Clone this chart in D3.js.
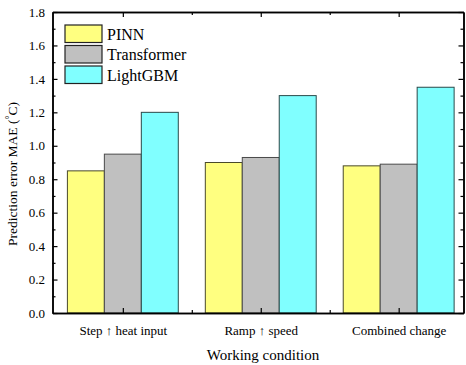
<!DOCTYPE html>
<html>
<head>
<meta charset="utf-8">
<script src="https://cdn.jsdelivr.net/npm/d3@7"></script>
<style>
  body { margin: 0; background: #fff; }
  svg { display: block; }
  svg text { font-family: "Liberation Serif", "Times New Roman", "DejaVu Serif", serif !important; fill: #000; }
</style>
</head>
<body>
<svg id="chart" width="466" height="365"></svg>
<script>
const categories = ["Step \u2191 heat input", "Ramp \u2191 speed", "Combined change"];
const seriesNames = ["PINN", "Transformer", "LightGBM"];
const pinnValues = [0.85, 0.90, 0.88];
const transformerValues = [0.95, 0.93, 0.89];
const lightgbmValues = [1.20, 1.30, 1.35];
const yTickValues = [0.0, 0.2, 0.4, 0.6, 0.8, 1.0, 1.2, 1.4, 1.6, 1.8];
const yMinorValues = [0.1, 0.3, 0.5, 0.7, 0.9, 1.1, 1.3, 1.5, 1.7];
const colors = ["#FFFF80", "#C0C0C0", "#80FFFF"];
const strokes = ["#4a4a2a", "#4a4a4a", "#2a4a4a"];

const series = [pinnValues, transformerValues, lightgbmValues];

const svg = d3.select("#chart");
const L = 52.5, R = 463.5, T = 12, B = 313;

const x = d3.scaleLinear().domain([0.49, 3.47]).range([L, R]);
const y = d3.scaleLinear().domain([0, 1.8]).range([B, T]);
const barW = x(1.268) - x(1);

// bars
series.forEach((vals, si) => {
  svg.append("g").selectAll("rect")
    .data(vals)
    .join("rect")
    .attr("x", (d, i) => x(i + 1) + (si - 1.5) * barW)
    .attr("y", d => y(d))
    .attr("width", barW)
    .attr("height", d => y(0) - y(d))
    .attr("fill", colors[si])
    .attr("stroke", strokes[si])
    .attr("stroke-width", 1);
});

const axisStyle = g => {
  g.attr("font-family", null);
  g.selectAll(".domain").attr("stroke", "#000").attr("stroke-width", 1.5);
  g.selectAll(".tick line").attr("stroke", "#000").attr("stroke-width", 1.2);
};

// left axis
svg.append("g").attr("transform", `translate(${L},0)`)
  .call(d3.axisLeft(y).tickValues(yTickValues).tickFormat(d3.format(".1f")).tickSize(-5).tickSizeOuter(0).tickPadding(7.5))
  .call(axisStyle)
  .attr("font-size", 13);
svg.append("g").attr("transform", `translate(${L},0)`)
  .call(d3.axisLeft(y).tickValues(yMinorValues).tickFormat("").tickSize(-3).tickSizeOuter(0))
  .call(axisStyle);

// right axis
svg.append("g").attr("transform", `translate(${R},0)`)
  .call(d3.axisRight(y).tickValues(yTickValues).tickFormat("").tickSize(-5).tickSizeOuter(0))
  .call(axisStyle);
svg.append("g").attr("transform", `translate(${R},0)`)
  .call(d3.axisRight(y).tickValues(yMinorValues).tickFormat("").tickSize(-3).tickSizeOuter(0))
  .call(axisStyle);

// bottom axis
svg.append("g").attr("transform", `translate(0,${B})`)
  .call(d3.axisBottom(x).tickValues([1, 2, 3]).tickFormat((d, i) => categories[i]).tickSize(-5).tickSizeOuter(0).tickPadding(13))
  .call(axisStyle)
  .attr("font-size", 13);
svg.append("g").attr("transform", `translate(0,${B})`)
  .call(d3.axisBottom(x).tickValues([1.5, 2.5]).tickFormat("").tickSize(-3).tickSizeOuter(0))
  .call(axisStyle);

// top axis
svg.append("g").attr("transform", `translate(0,${T})`)
  .call(d3.axisTop(x).tickValues([1, 2, 3]).tickFormat("").tickSize(-5).tickSizeOuter(0))
  .call(axisStyle);
svg.append("g").attr("transform", `translate(0,${T})`)
  .call(d3.axisTop(x).tickValues([1.5, 2.5]).tickFormat("").tickSize(-3).tickSizeOuter(0))
  .call(axisStyle);

// axis titles
svg.append("text")
  .attr("x", 263).attr("y", 360)
  .attr("text-anchor", "middle")
  .attr("font-size", 15)
  .text("Working condition");

const yt = svg.append("text")
  .attr("transform", "translate(17,174) rotate(-90)")
  .attr("text-anchor", "middle")
  .attr("font-size", 13.5);
yt.append("tspan").text("Prediction error MAE (");
yt.append("tspan").attr("font-size", 10).attr("dy", -4).text("\u00B0");
yt.append("tspan").attr("dy", 4).text("C)");

// legend
const leg = svg.append("g");
seriesNames.forEach((name, i) => {
  const yy = 25 + i * 20.5;
  leg.append("rect")
    .attr("x", 65).attr("y", yy)
    .attr("width", 37).attr("height", 17.5)
    .attr("fill", colors[i])
    .attr("stroke", "#222")
    .attr("stroke-width", 1.2);
  leg.append("text")
    .attr("x", 107).attr("y", yy + 14.5)
    .attr("font-size", 16)
    .text(name);
});
</script>
</body>
</html>
